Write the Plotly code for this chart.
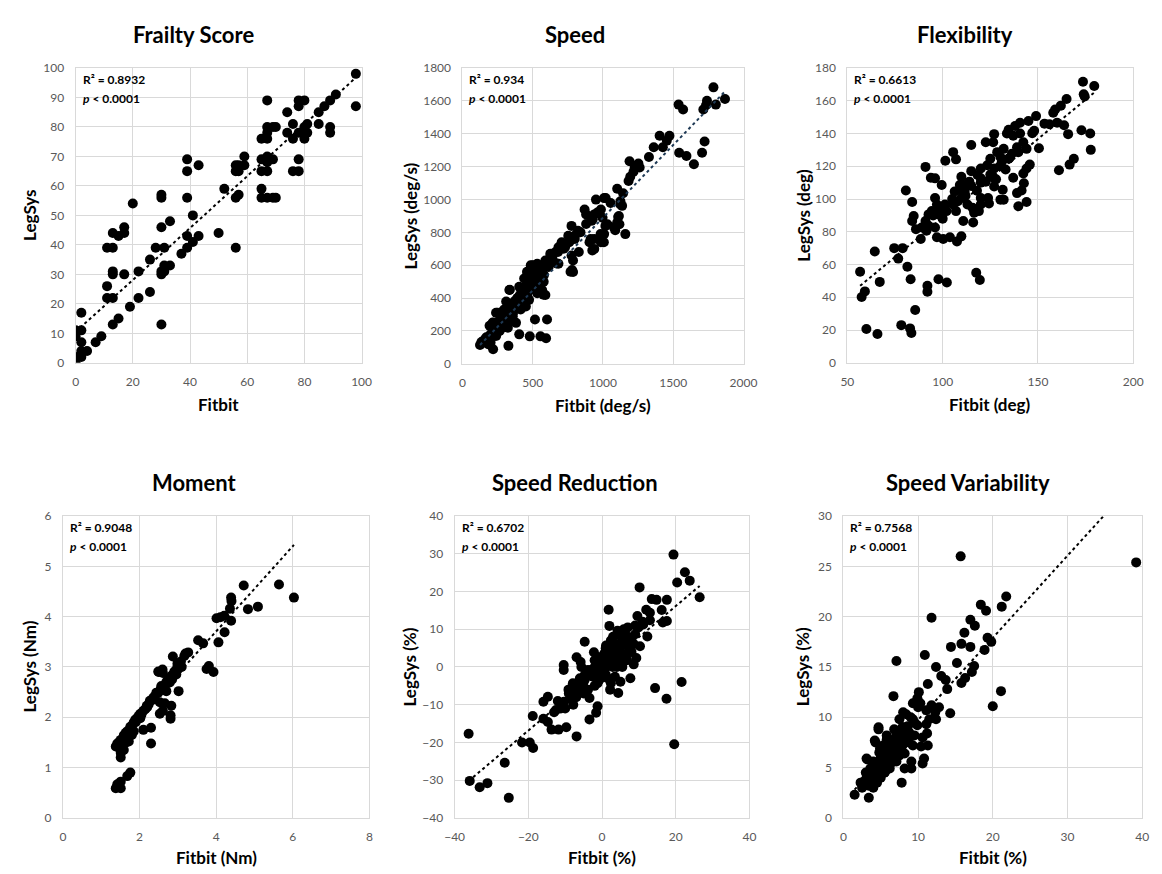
import plotly.graph_objects as go

# ---------------- DATA ----------------
frailty_fitbit = [98, 98, 91, 89, 87, 85, 85, 89, 89, 80, 78, 78, 74, 76, 74, 76, 78, 80, 80, 81, 81,
                  78, 76, 78, 67, 67, 69, 70, 67, 65, 67, 65, 67, 69, 67, 65, 67, 67, 65, 65, 67, 69, 70,
                  59, 59, 57, 56, 56, 57, 52, 57, 56, 56, 50,
                  39, 39, 43, 39, 41, 39, 43, 41, 39, 37,
                  30, 30, 30, 33, 28, 31, 30, 31, 30, 31, 33, 26, 26, 30,
                  20, 22, 22, 19, 15, 13,
                  17, 17, 15, 13, 11, 13, 11, 11, 13, 13, 13, 17,
                  2, 2, 0, 0, 2, 4, 2, 2, 0, 0, 7, 9]
frailty_legsys = [98, 87, 91, 89, 87, 85, 81, 80, 78, 89, 89, 87, 85, 81, 78, 76, 78, 76, 80, 81, 78,
                  69, 65, 65, 89, 80, 80, 80, 78, 76, 76, 69, 69, 69, 70, 65, 65, 68, 59, 56, 56, 56, 56,
                  70, 67, 67, 67, 65, 65, 59, 57, 56, 39, 44,
                  69, 65, 67, 56, 50, 43, 43, 41, 39, 37,
                  57, 56, 46, 48, 39, 39, 31, 31, 30, 33, 33, 35, 24, 13,
                  54, 31, 22, 19, 15, 13,
                  46, 44, 43, 44, 39, 39, 26, 22, 22, 31, 30, 30,
                  17, 11, 11, 9, 7, 4, 4, 2, 2, 0, 7, 9]

speed_fitbit = [1786, 1868, 1803, 1740, 1733, 1714, 1538, 1570, 1723, 1705, 1542, 1594, 1647,
                1403, 1473, 1454, 1426, 1361, 1327,
                1189, 1252, 1240, 1226, 1261, 1217, 1194, 1182,
                1101, 1143, 1124, 1136, 1108, 1117, 1087, 1159,
                1019, 950, 1008, 1054, 1124, 1113, 985, 938, 869, 880, 927, 997, 1031, 1078, 1101,
                1008, 985, 938, 938, 904, 983, 924, 912, 1006, 1017,
                776, 822, 799, 753, 706, 730, 683, 660, 625, 776, 787, 683, 787, 828, 780, 769, 669,
                590, 613, 532, 486, 567, 462, 521, 439, 544, 578, 509, 474, 567, 590, 532, 462, 427,
                404, 474, 451, 381, 334, 311, 358, 288, 253, 323, 276, 218, 323, 265, 230, 195, 160,
                125, 183, 218, 358, 381, 404, 576, 553, 541, 518, 495, 460, 472, 425, 379, 414, 337,
                298, 309, 263, 239, 216, 193, 170, 135, 500, 520, 440, 480, 350, 300, 270, 620,
                516, 602, 404, 479, 555, 595, 327,
                150, 175, 200, 230, 250, 270, 290, 310, 330, 350, 370, 390, 410, 430, 450, 470, 490,
                510, 530, 550, 570, 590, 200, 240, 280, 320, 340, 360, 380, 400, 420, 440, 460, 480,
                500, 520, 540, 560, 580, 600, 640, 680, 720, 760, 800, 840, 880, 920, 960, 250, 290,
                460, 500, 540]
speed_legsys = [1682, 1611, 1577, 1601, 1573, 1547, 1577, 1547, 1352, 1284, 1284, 1264, 1214,
                1388, 1388, 1358, 1318, 1318, 1258,
                1232, 1218, 1198, 1194, 1194, 1168, 1138, 1112,
                1065, 1038, 989, 961, 893, 849, 813, 789,
                1009, 999, 1008, 978, 969, 899, 939, 909, 939, 909, 879, 889, 849, 829, 859,
                789, 739, 699, 759, 739, 789, 690, 759, 739, 839,
                839, 809, 759, 779, 739, 709, 709, 679, 669, 659, 629, 609, 559, 680, 570, 560, 610,
                629, 589, 609, 599, 579, 559, 559, 519, 529, 499, 499, 479, 449, 419, 429, 429, 459,
                409, 389, 349, 369, 449, 379, 329, 319, 309, 279, 259, 249, 219, 199, 169, 149, 149,
                114, 119, 89, 289, 249, 469, 420, 510, 560, 470, 530, 410, 470, 391, 371, 331, 450,
                331, 281, 261, 311, 251, 231, 161, 132, 480, 520, 400, 450, 300, 280, 240, 640,
                269, 269, 179, 167, 167, 155, 109,
                140, 160, 180, 200, 230, 260, 290, 300, 330, 350, 380, 400, 420, 440, 470, 490, 500,
                520, 540, 560, 580, 600, 130, 170, 220, 250, 290, 310, 340, 360, 380, 400, 430, 450,
                460, 480, 500, 520, 540, 610, 640, 680, 700, 740, 780, 800, 850, 870, 920, 310, 320,
                560, 600, 600]

flex_fitbit = [173.6, 179.5, 174, 174.5, 165, 162, 159, 158, 153.4, 156, 160, 163.7, 149, 148, 147, 150.5,
               165.8, 172.8, 177.4, 177.7, 161, 166.6, 168.8,
               145, 140.6, 138, 134.6, 133.7, 137, 140.6, 142.3, 139, 144, 139.7, 136.3, 132, 128.6, 130.3,
               134.6, 131, 127, 126.5, 122.6, 115, 105.5, 107, 101.4, 91, 93.8, 96, 99.5, 80.7,
               145.7, 144, 142.3, 142.6, 141.4, 139, 139.7, 144, 137,
               132, 130.3, 131.5, 127, 127, 127, 123.4, 125, 122.6, 120, 120, 118.3, 115, 114, 111.5,
               109.8, 109, 106.3, 109.8, 108, 107, 105.5, 111.5, 113, 115.7, 116.5, 119, 120, 120, 123.8,
               124.3, 110.8, 116, 109.8, 107.5,
               96, 97, 98.6, 101.2, 102, 97.8, 94.3, 92.6, 91, 92.6, 89, 91.5, 96, 97, 100.3, 103.8,
               88.5, 86, 84, 84.8, 84,
               74.6, 79, 76.7, 64.4, 56.7, 59.2, 57.5, 67, 81.5, 83.2, 92, 92, 97.8, 102.2, 117.6, 119.5,
               85.6, 78.3, 82.9, 83.6, 60, 65.8,
               100, 105, 110, 115, 120, 125, 130, 135, 95, 100, 112, 118, 128, 133]
flex_legsys = [171.6, 169, 164, 162.6, 161, 157, 154.6, 152.6, 146, 145.6, 146.6, 145, 150.6, 141.6, 140.2, 131,
               139.6, 142, 140, 130, 117.6, 121, 124.6,
               147.6, 146.6, 144.6, 142.2, 140, 138.6, 140, 134.6, 131.6, 130.6, 128.6, 127.6, 130.6, 128.6, 125.6,
               124.6, 122.6, 139.6, 134.6, 134.6, 133, 128.6, 124.2, 123.4, 119.6, 113, 112.6, 108.6, 105.2,
               121, 118.6, 115.6, 109.6, 105.2, 103.6, 95.6, 98.2, 113,
               99.6, 99.6, 105.6, 107.6, 112.6, 118.6, 120.6, 124.6, 110.6, 118.6, 112.6, 114.6, 117, 110.6, 108.6,
               113.6, 108.6, 104.6, 100.6, 98.6, 92.6, 96.6, 104.6, 96.6, 94.6, 91.6, 92.6, 96.6, 100.6, 100.6,
               97.2, 86.6, 85.6, 77.2, 74,
               100.6, 96.6, 94.6, 96.6, 92.6, 90.6, 92.6, 90.6, 86.6, 83.6, 82.6, 80.6, 82.6, 76.6, 75.6, 76.6,
               75.6, 81.6, 86.6, 89.6, 98.2,
               70, 70, 63.6, 68, 55.6, 43.6, 40.2, 49.4, 58.6, 51, 47, 43.4, 51, 49, 55, 50.6,
               32.2, 23, 21, 18.2, 20.6, 17.6,
               95, 100, 105, 108, 110, 115, 120, 125, 90, 88, 102, 105, 112, 118]

moment_fitbit = [5.64, 6.03, 5.09, 4.83, 4.72, 4.39, 4.40, 4.36, 4.39, 4.21, 4.11, 4.01, 4.22, 4.06,
                 3.53, 3.66, 3.81, 3.75, 3.93, 3.27, 3.17, 2.87, 3.08, 2.99, 2.91, 2.83, 2.96, 2.49, 2.61,
                 2.79, 2.70, 3.02, 2.57, 2.66, 2.44, 2.36, 2.27, 2.19, 2.10, 2.02, 1.93, 1.85, 1.76, 1.68,
                 1.59, 1.51, 1.42, 1.38, 1.55,
                 2.53, 2.66, 2.83, 2.53, 2.61, 2.81, 2.81, 2.30, 2.10, 2.30, 1.72, 1.76, 1.51, 1.51, 1.59,
                 1.76, 1.68, 1.38, 1.51, 1.42, 1.51,
                 1.89, 1.98, 2.15, 2.24, 2.40, 2.49, 2.57, 1.81, 1.64, 1.47, 1.68, 1.85, 2.02, 2.74, 2.87,
                 2.99, 3.20,
                 1.45, 1.60, 1.75, 1.90, 2.05, 2.20, 2.35, 2.55, 2.70, 2.85, 3.00, 3.10, 1.50, 1.65, 1.80,
                 2.50, 2.60]
moment_legsys = [4.64, 4.38, 4.20, 4.15, 4.62, 4.38, 4.31, 4.16, 3.92, 4.02, 3.99, 3.97, 3.69, 3.49,
                 3.53, 3.47, 3.02, 2.96, 2.90, 3.29, 3.22, 3.21, 3.11, 3.01, 2.91, 2.82, 2.85, 2.91, 2.88,
                 2.69, 2.52, 2.52, 2.62, 2.56, 2.49, 2.39, 2.33, 2.23, 2.13, 2.07, 1.98, 1.90, 1.81, 1.72,
                 1.64, 1.55, 1.48, 1.42, 1.45,
                 2.30, 2.28, 2.23, 2.07, 2.13, 2.04, 1.97, 1.79, 1.75, 1.48, 1.52, 1.68, 1.29, 1.20, 1.35,
                 0.90, 0.83, 0.59, 0.59, 0.67, 0.72,
                 1.95, 2.03, 2.16, 2.26, 2.42, 2.49, 2.59, 1.84, 1.69, 1.51, 1.59, 1.72, 1.98, 2.75, 2.85,
                 3.07, 3.27,
                 1.45, 1.60, 1.75, 1.90, 2.05, 2.20, 2.35, 2.55, 2.70, 2.75, 2.95, 3.00, 1.35, 1.50, 1.65,
                 2.90, 2.95]

red_fitbit = [19.4, 22.5, 23.8, 20.4, 26.5, 10.2, 13.5, 14.8, 17.6, 12.0, 13.0, 16.2, 9.6, 16.5, 17.6,
              13.0, 11.2, 9.9, 12.3, 10.3, 9.3, 8.6, 7.7,
              21.6, 14.4, 17.5, 19.6, -36.2, -35.9, -33.2, -31.1, -26.4, -25.3,
              -21.7, -19.6, -18.7, -18.8, -15.9, -14.7, -15.9, -14.7, -13.7, -11.8, -9.7, -6.9, -12.5,
              -11.2, -10.3, -10.4, -10.4, -8.4, -7.8, -9.1, -7.9, -7.3, -6.9, -5.8, -4.7, -5.6, -4.7,
              -3.8, -3.4, -3.4, -1.6, -1.2, -2.2, -2.9, -1.6, -0.7, -0.3, 0.6, 1.1, 1.8, 2.0, 2.4, 3.3,
              2.4, 1.5, 2.4, 2.2, 3.5, 5.0, 4.4, 4.2, 5.0, 5.9, 7.0, 6.4, 5.0, 4.2, 5.0, 5.9, 6.8, 7.3,
              8.1, 8.6, 9.0, 0.6, 1.5, 3.3, 4.2, 0.2, -1.2, -2.5, -3.8, -4.7, -6.0, -6.5, -7.8, -6.5,
              -5.1, -2.0, -0.7, 1.1, 2.9, 3.7, 6.8, 5.5,
              -8, -6, -5, -4, -3, -2, -1, 0, 0, 1, 1, 2, 2, 3, 3, 4, 4, 5, 6, 6, 7, 8, -9, -7, -5, -2,
              -1, 1, 3, 5, 9, 11, -12, -10, -13]
red_legsys = [29.8, 25.1, 22.9, 22.4, 18.5, 21.1, 18.0, 17.8, 17.8, 15.2, 14.4, 15.1, 13.5, 11.8, 12.2,
              12.4, 11.3, 10.5, 8.1, 5.5, 2.4, 0.7, -3.0,
              -4.0, -5.6, -8.4, -20.5, -17.7, -30.2, -31.9, -30.8, -25.4, -34.7,
              -20.0, -20.0, -21.5, -13.0, -9.2, -7.9, -13.7, -14.6, -16.6, -16.6, -16.0, -18.4, -11.4,
              -11.0, -9.2, 0.5, -0.8, -8.5, -10.0, -6.0, -4.3, -5.2, 2.6, 1.3, 6.7, 0.0, -3.4,
              -6.0, -8.2, -13.9, -12.1, -10.4, 3.9, -0.8, -1.7, -3.4, 0.0, 1.8, 5.7, 15.2, 10.9, 7.0, 5.2,
              3.5, -3.0, -4.3, -6.0, -2.6, -3.9, -6.9, 9.6, 8.3, 10.0, 10.5, 7.0, 6.1, 3.5, 1.8, 2.6, 3.5, 5.2,
              7.8, 6.1, 8.7, 3.5, 1.8, 0.9, 1.8, -1.3, -4.3, -2.6, -0.8, -2.1, -3.4, -4.7, -6.0, -6.9,
              -5.2, 1.8, 2.6, 0.0, 0.0, 6.1, 1.8, 0.0,
              -5, -3, -4, -1, -2, 0, 1, -1, 2, 3, -2, 4, 1, 2, 6, 5, 0, 4, 6, 3, 8, 4, -7, -8, -7, -5,
              -3, 5, 8, 9, 11, 12, -9, -11, -12]

var_fitbit = [39.2, 15.7, 21.8, 21.2, 18.4, 19.1, 11.8, 17.0, 17.6, 16.2, 19.3, 19.8, 18.9, 14.4, 15.8,
              17.0, 10.9, 7.1, 15.2, 12.4, 17.5, 17.2, 13.1, 13.7, 16.3, 15.8, 11.3, 13.9, 21.1, 20.0,
              14.3, 6.7,
              10.1, 9.9, 10.3, 9.3, 11.8, 11.1, 12.8, 12.3, 12.4, 11.5, 11.1, 9.9, 9.3, 8.4, 7.5, 8.6,
              9.5, 10.6, 11.2, 10.4, 11.3, 10.8, 10.6, 9.1, 8.2, 9.1, 7.8, 7.1, 7.5, 6.6, 6.2, 5.8, 4.7,
              4.2, 4.9, 5.3, 4.0, 3.1, 3.6, 4.5, 5.6, 3.1, 2.7, 3.4, 4.5, 3.4, 1.5, 6.6, 5.8, 7.1, 7.5,
              7.9, 8.4, 8.8, 7.3, 6.4, 5.1, 6.2, 4.0, 2.3, 5.3, 9.3, 8.2, 8.8, 7.9,
              3.0, 3.5, 4.0, 4.2, 4.5, 5.0, 5.0, 5.5, 5.5, 6.0, 6.0, 6.5, 6.5, 7.0, 7.0, 7.5, 7.5, 8.0,
              8.0, 8.5, 4.5, 5.0, 6.0, 7.0, 3.8, 4.8, 5.8, 6.8, 9.0, 8.0, 10.0, 9.5, 2.5, 4.0, 5.5, 6.5,
              3.2, 4.3, 4.7]
var_legsys = [25.4, 26.0, 22.0, 21.0, 21.2, 20.6, 19.9, 19.7, 19.1, 18.4, 17.9, 17.5, 16.7, 17.0, 17.3,
              17.0, 16.2, 15.6, 15.4, 15.0, 15.1, 14.5, 14.1, 13.7, 13.9, 13.4, 13.3, 12.8, 12.6, 11.1,
              10.4, 12.1,
              12.5, 11.9, 11.4, 11.4, 11.2, 10.7, 11.0, 10.5, 9.8, 9.8, 9.3, 9.2, 9.8, 10.3, 9.8, 9.1,
              8.2, 8.0, 8.4, 7.1, 7.2, 5.9, 5.4, 5.6, 4.9, 4.9, 3.5, 8.5, 7.7, 7.2, 6.2, 8.2, 9.0,
              7.7, 6.9, 5.9, 5.6, 5.9, 4.9, 4.3, 4.6, 4.0, 3.6, 3.2, 3.5, 2.0, 2.3, 5.9, 5.2, 5.6, 6.2,
              7.2, 7.8, 7.5, 6.9, 6.7, 5.2, 4.9, 4.6, 3.5, 7.2, 7.2, 6.4, 8.5, 9.0,
              4.5, 4.0, 4.2, 5.0, 5.5, 5.0, 6.0, 5.5, 6.5, 6.0, 7.0, 6.5, 7.5, 7.0, 8.0, 7.5, 8.5, 8.0,
              9.0, 8.5, 4.5, 4.0, 5.0, 6.0, 3.8, 6.5, 7.8, 8.8, 10.0, 10.5, 11.0, 9.5, 3.0, 3.0, 4.5, 5.5,
              5.8, 7.5, 8.8]

titles = ["Frailty Score", "Speed", "Flexibility", "Moment", "Speed Reduction", "Speed Variability"]
x_titles = ["Fitbit", "Fitbit (deg/s)", "Fitbit (deg)", "Fitbit (Nm)", "Fitbit (%)", "Fitbit (%)"]
y_titles = ["LegSys", "LegSys (deg/s)", "LegSys (deg)", "LegSys (Nm)", "LegSys (%)", "LegSys (%)"]
r2_labels = ["0.8932", "0.934", "0.6613", "0.9048", "0.6702", "0.7568"]
trend_slope = [0.88, 0.885, 0.961, 0.847, 0.825, 0.816]
trend_intercept = [10.5, 4.0, -7.5, 0.32, -0.36, 1.58]
x_ranges = [(0, 100), (0, 2000), (50, 200), (0, 8), (-40, 40), (0, 40)]
y_ranges = [(0, 100), (0, 1800), (0, 180), (0, 6), (-40, 40), (0, 30)]
x_dticks = [20, 500, 50, 2, 20, 10]
y_dticks = [10, 200, 20, 1, 10, 5]

xs = [frailty_fitbit, speed_fitbit, flex_fitbit, moment_fitbit, red_fitbit, var_fitbit]
ys = [frailty_legsys, speed_legsys, flex_legsys, moment_legsys, red_legsys, var_legsys]

# ---------------- LAYOUT (pixel boxes) ----------------
W, H = 1162, 874
boxes = [(67, 359, 61, 361), (462, 749, 61, 362), (855, 1147, 61, 361),
         (54, 367, 517, 824), (454, 755, 517, 824), (851, 1156, 517, 824)]
title_pos = [(187, 27), (577, 27), (975, 27), (188, 483), (577, 483), (978, 483)]
ytitle_x = [20, 409, 810, 20, 408, 810]
xtitle_y = [403, 404, 403, 864, 864, 864]
trend_colors = ["black", "#1f3a55", "black", "black", "black", "black"]

FONT = "Lato, 'Open Sans', sans-serif"
fig = go.Figure()
annotations = []

def px_x(p):
    return p / W

def px_y(p):
    return 1 - p / H

for i in range(6):
    x0, x1, y0, y1 = boxes[i]
    ax = "" if i == 0 else str(i + 1)
    xa, ya = "x" + ax, "y" + ax
    fig.add_trace(go.Scatter(x=xs[i], y=ys[i], mode="markers", xaxis=xa, yaxis=ya,
                             marker=dict(color="black", size=10), showlegend=False,
                             hoverinfo="x+y"))
    xmin, xmax = min(xs[i]), max(xs[i])
    fig.add_trace(go.Scatter(x=[xmin, xmax],
                             y=[trend_slope[i] * xmin + trend_intercept[i],
                                trend_slope[i] * xmax + trend_intercept[i]],
                             mode="lines", xaxis=xa, yaxis=ya, showlegend=False,
                             line=dict(color=trend_colors[i], width=2, dash="dot"),
                             hoverinfo="skip"))
    axis_common = dict(showgrid=True, gridcolor="#d9d9d9", gridwidth=1, zeroline=False,
                       showline=True, linecolor="#d9d9d9", linewidth=1, mirror=True,
                       ticks="outside", ticklen=8, tickcolor="rgba(0,0,0,0)",
                       tickfont=dict(family=FONT, size=12, color="#595959"),
                       fixedrange=True)
    fig.update_layout(**{
        "xaxis" + ax: dict(domain=[px_x(x0), px_x(x1)], range=list(x_ranges[i]), dtick=x_dticks[i],
                           tick0=x_ranges[i][0], anchor=ya, **axis_common),
        "yaxis" + ax: dict(domain=[px_y(y1), px_y(y0)], range=list(y_ranges[i]), dtick=y_dticks[i],
                           tick0=y_ranges[i][0], anchor=xa, **axis_common),
    })
    annotations.append(dict(text="<b>" + titles[i] + "</b>", x=px_x(title_pos[i][0]), y=px_y(title_pos[i][1]),
                            xref="paper", yref="paper", xanchor="center", yanchor="middle",
                            showarrow=False, font=dict(family=FONT, size=22, color="black")))
    annotations.append(dict(text="<b>" + x_titles[i] + "</b>", x=px_x((x0 + x1) / 2), y=px_y(xtitle_y[i]),
                            xref="paper", yref="paper", xanchor="center", yanchor="middle",
                            showarrow=False, font=dict(family=FONT, size=17, color="black")))
    annotations.append(dict(text="<b>" + y_titles[i] + "</b>", x=px_x(ytitle_x[i]), y=px_y((y0 + y1) / 2),
                            xref="paper", yref="paper", xanchor="center", yanchor="middle",
                            textangle=-90, showarrow=False, font=dict(family=FONT, size=17, color="black")))
    annotations.append(dict(text="<b>R² = " + r2_labels[i] + "</b>", x=px_x(x0 + 5), y=px_y(y0 + 12),
                            xref="paper", yref="paper", xanchor="left", yanchor="middle",
                            showarrow=False, font=dict(family=FONT, size=12, color="black")))
    annotations.append(dict(text="<b><i>p</i> &lt; 0.0001</b>", x=px_x(x0 + 5), y=px_y(y0 + 31),
                            xref="paper", yref="paper", xanchor="left", yanchor="middle",
                            showarrow=False, font=dict(family=FONT, size=12, color="black")))

fig.update_layout(width=W, height=H, margin=dict(l=0, r=0, t=0, b=0),
                  paper_bgcolor="white", plot_bgcolor="white", annotations=annotations,
                  font=dict(family=FONT))
fig.write_html("out.html")
